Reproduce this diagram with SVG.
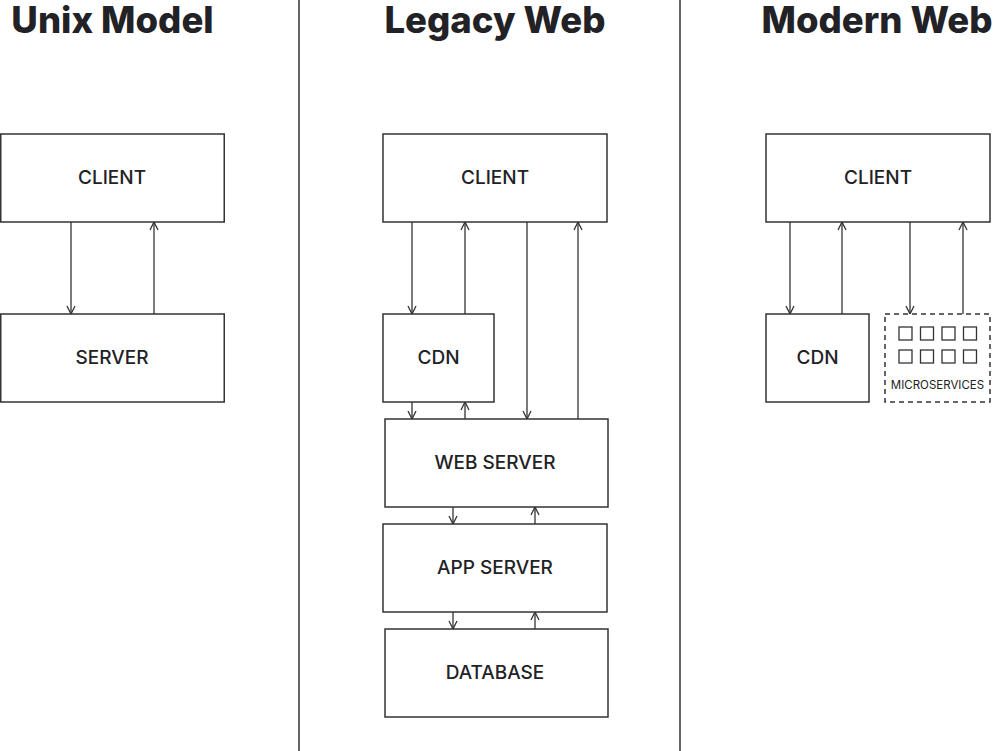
<svg xmlns="http://www.w3.org/2000/svg" width="994" height="751" viewBox="0 0 994 751">
<style>
.title{font-family:Inter,"Noto Sans","Liberation Sans",sans-serif;font-weight:800;font-size:36.5px;fill:#222226;text-anchor:middle}
.box{fill:#fff;stroke:#333;stroke-width:1.5}
.dash{fill:#fff;stroke:#333;stroke-width:1.5;stroke-dasharray:5 4}
.lbl{font-family:Inter,"Noto Sans","Liberation Sans",sans-serif;font-weight:500;font-size:19px;fill:#222226;text-anchor:middle;dominant-baseline:central}
.small{font-family:Inter,"Noto Sans","Liberation Sans",sans-serif;font-size:11.5px;fill:#222226;text-anchor:middle}
.sq{fill:#fff;stroke:#333;stroke-width:1.3}
.c{stroke:#333;stroke-width:1.3;fill:none}
.div{stroke:#333;stroke-width:1.5}
</style>
<defs>
<marker id="ah" viewBox="0 0 10 10" refX="9" refY="5" markerWidth="10" markerHeight="10" markerUnits="userSpaceOnUse" orient="auto">
<path d="M1,1 L9,5 L1,9" fill="none" stroke="#333" stroke-width="1.3"/>
</marker>
</defs>
<rect width="994" height="751" fill="#fff"/>
<g id="dividers">
<line class="div" x1="299" y1="0" x2="299" y2="751"/>
<line class="div" x1="680" y1="0" x2="680" y2="751"/>
</g>
<g id="titles">
<text class="title" x="112.5" y="33">Unix Model</text>
<text class="title" x="495" y="33">Legacy Web</text>
<text class="title" x="877" y="33">Modern Web</text>
</g>
<g id="connectors">
<line class="c" x1="71" y1="222" x2="71" y2="314" marker-end="url(#ah)"/>
<line class="c" x1="154" y1="314" x2="154" y2="222" marker-end="url(#ah)"/>
<line class="c" x1="412" y1="222" x2="412" y2="314" marker-end="url(#ah)"/>
<line class="c" x1="465" y1="314" x2="465" y2="222" marker-end="url(#ah)"/>
<line class="c" x1="527" y1="222" x2="527" y2="419" marker-end="url(#ah)"/>
<line class="c" x1="578" y1="419" x2="578" y2="222" marker-end="url(#ah)"/>
<line class="c" x1="412" y1="402" x2="412" y2="419" marker-end="url(#ah)"/>
<line class="c" x1="465" y1="419" x2="465" y2="402" marker-end="url(#ah)"/>
<line class="c" x1="453" y1="507" x2="453" y2="524" marker-end="url(#ah)"/>
<line class="c" x1="535" y1="524" x2="535" y2="507" marker-end="url(#ah)"/>
<line class="c" x1="453" y1="612" x2="453" y2="629" marker-end="url(#ah)"/>
<line class="c" x1="535" y1="629" x2="535" y2="612" marker-end="url(#ah)"/>
<line class="c" x1="790" y1="222" x2="790" y2="314" marker-end="url(#ah)"/>
<line class="c" x1="842" y1="314" x2="842" y2="222" marker-end="url(#ah)"/>
<line class="c" x1="910" y1="222" x2="910" y2="314" marker-end="url(#ah)"/>
<line class="c" x1="963" y1="314" x2="963" y2="222" marker-end="url(#ah)"/>
</g>
<g id="unix-client"><rect class="box" x="0.75" y="134" width="223.5" height="88"/><text class="lbl" x="112" y="177">CLIENT</text></g>
<g id="unix-server"><rect class="box" x="0.75" y="314" width="223.5" height="88"/><text class="lbl" x="112" y="357">SERVER</text></g>
<g id="legacy-client"><rect class="box" x="383" y="134" width="224" height="88"/><text class="lbl" x="495" y="177">CLIENT</text></g>
<g id="legacy-cdn"><rect class="box" x="383" y="314" width="111" height="88"/><text class="lbl" x="438.5" y="357">CDN</text></g>
<g id="legacy-web-server"><rect class="box" x="385" y="419" width="223" height="88"/><text class="lbl" x="495" y="462">WEB SERVER</text></g>
<g id="legacy-app-server"><rect class="box" x="383" y="524" width="224" height="88"/><text class="lbl" x="495" y="567">APP SERVER</text></g>
<g id="legacy-database"><rect class="box" x="385" y="629" width="223" height="88"/><text class="lbl" x="495" y="672">DATABASE</text></g>
<g id="modern-client"><rect class="box" x="766" y="134" width="224" height="88"/><text class="lbl" x="878" y="177">CLIENT</text></g>
<g id="modern-cdn"><rect class="box" x="766" y="314" width="103" height="88"/><text class="lbl" x="817.5" y="357">CDN</text></g>
<g id="modern-microservices">
<rect class="dash" x="885" y="314" width="105" height="88"/>
<rect class="sq" x="899" y="327" width="13" height="13"/>
<rect class="sq" x="920.5" y="327" width="13" height="13"/>
<rect class="sq" x="942" y="327" width="13" height="13"/>
<rect class="sq" x="963.5" y="327" width="13" height="13"/>
<rect class="sq" x="899" y="350" width="13" height="13"/>
<rect class="sq" x="920.5" y="350" width="13" height="13"/>
<rect class="sq" x="942" y="350" width="13" height="13"/>
<rect class="sq" x="963.5" y="350" width="13" height="13"/>
<text class="small" x="937.5" y="389">MICROSERVICES</text>
</g>
</svg>
